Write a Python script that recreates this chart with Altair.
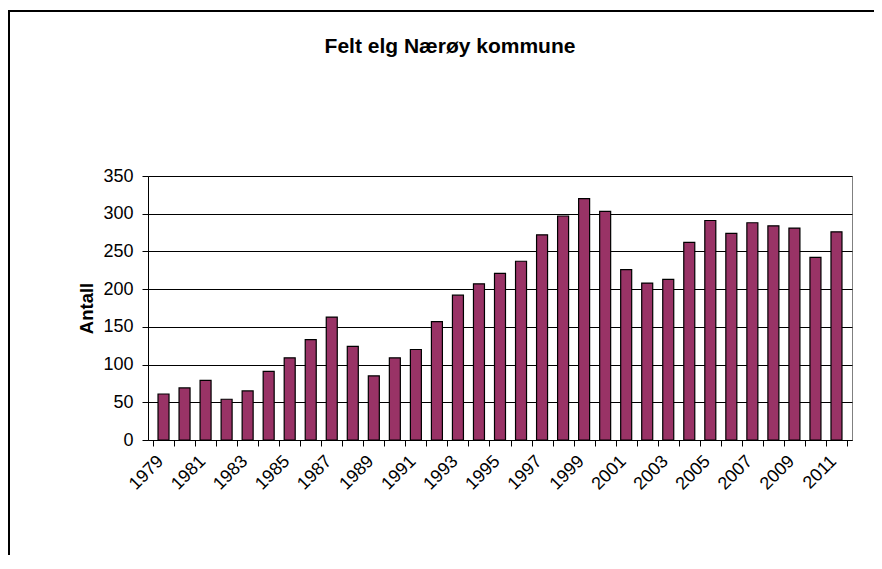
import altair as alt
import pandas as pd

years = list(range(1979, 2012))
antall = [61, 69, 79, 54, 65, 91, 109, 133, 163, 124, 85, 109, 120, 157, 192,
          207, 221, 237, 272, 297, 320, 303, 226, 208, 213, 262, 291, 274, 288,
          284, 281, 242, 276]
y_ticks = [0, 50, 100, 150, 200, 250, 300, 350]
title_text = "Felt elg Nærøy kommune"
y_title = "Antall"

df = pd.DataFrame({"Year": years, "Antall": antall})
edges = [y - 0.5 for y in years] + [years[-1] + 0.5]

W, H = 704, 264
band = W / len(years)
FONT = "Liberation Sans"

bars = alt.Chart(df).mark_bar(
    color="#993366", stroke="black", strokeWidth=1.2, size=11
).encode(
    x=alt.X("Year:Q",
            scale=alt.Scale(domain=[edges[0], edges[-1]], nice=False, zero=False),
            axis=alt.Axis(values=edges, title=None, grid=False,
                          labelExpr="((datum.value + 0.5) % 2 == 1) ? format(datum.value + 0.5, 'd') : ''",
                          labelOffset=1, labelAngle=-45, labelAlign="right",
                          labelBaseline="top", labelPadding=6, labelOverlap=False,
                          labelFlush=False, tickSize=6, labelFontSize=18,
                          domainColor="black", tickColor="black")),
    y=alt.Y("Antall:Q",
            scale=alt.Scale(domain=[0, 350], nice=False),
            axis=alt.Axis(values=y_ticks, title=y_title, grid=True, gridColor="black",
                          gridWidth=1, tickSize=6, labelFontSize=18, labelPadding=9,
                          titleFontSize=18.5, titleFontWeight="bold", titlePadding=6,
                          domainColor="black", tickColor="black")),
)

frame = alt.Chart(alt.Data(values=[{}])).mark_rule(color="black", strokeWidth=2).encode(
    x=alt.value(-139), y=alt.value(-166), y2=alt.value(H + 200)
)
frame_top = alt.Chart(alt.Data(values=[{}])).mark_rule(color="black", strokeWidth=2).encode(
    x=alt.value(-140), x2=alt.value(W + 200), y=alt.value(-165)
)

chart = alt.layer(frame, frame_top, bars).properties(
    width=W, height=H,
    title=alt.TitleParams(title_text, fontSize=21, fontWeight="bold", font=FONT,
                          color="black", offset=-48, dx=-50),
    autosize=alt.AutoSizeParams(type="none"),
    padding={"left": 140, "top": 168, "right": 22, "bottom": 115},
).configure(
    background="white", font=FONT
).configure_view(
    stroke="#808080", strokeWidth=1
).configure_axis(
    labelColor="black", titleColor="black", labelFont=FONT, titleFont=FONT
)

chart.save("out.html", embed_options={"renderer": "svg", "actions": False})
